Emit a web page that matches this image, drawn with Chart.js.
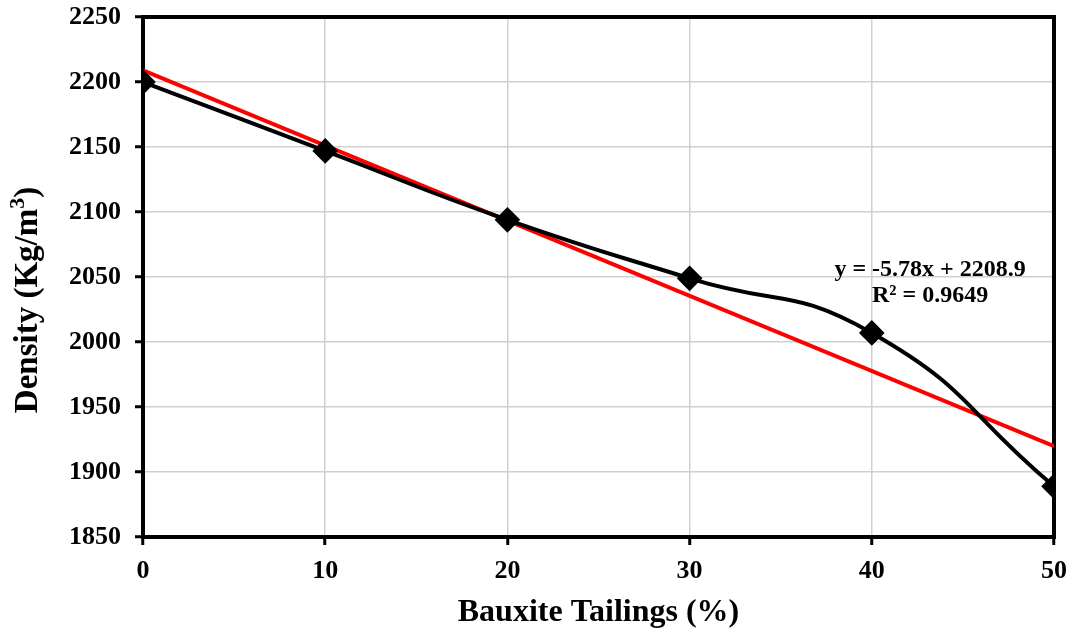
<!DOCTYPE html>
<html>
<head>
<meta charset="utf-8">
<script src="https://cdn.jsdelivr.net/npm/chart.js@4"></script>
<style>
  html, body { margin: 0; padding: 0; background: #fff; }
  #wrap { width: 1073px; height: 632px; }
</style>
</head>
<body>
<div id="wrap"><canvas id="densityChart" width="1073" height="632"></canvas></div>
<script>
// values
const tailings = [0, 10, 20, 30, 40, 50];
const density = [2200, 2147, 2094, 2049, 2007, 1889];
// linear trend y = -5.78x + 2208.9, drawn between its two ends
const trendX = [0, 50];
const trendY = [2208.9, 1919.9];
const trendText = ['y = -5.78x + 2208.9', 'R\u00b2 = 0.9649'];

const serif = '"Liberation Serif", "Times New Roman", serif';

const frameBox = {
  id: 'frameBox',
  beforeDatasetsDraw(chart) {
    const a = chart.chartArea;
    const ctx = chart.ctx;
    ctx.save();
    ctx.strokeStyle = '#000';
    ctx.lineWidth = 4;
    ctx.strokeRect(a.left, a.top, a.right - a.left, a.bottom - a.top);
    ctx.restore();
  },
  afterDatasetsDraw(chart) {
    const ctx = chart.ctx;
    const x = chart.scales.x.getPixelForValue(43.2);
    const y = chart.scales.y.getPixelForValue(2055.5);
    ctx.save();
    ctx.fillStyle = '#000';
    ctx.font = 'bold 24px ' + serif;
    ctx.textAlign = 'center';
    ctx.textBaseline = 'middle';
    ctx.fillText(trendText[0], x, y);
    ctx.fillText(trendText[1], x, y + 26);
    ctx.restore();

    // y axis title with a real superscript
    const main = 'Density (Kg/m';
    const sup = '3';
    const tail = ')';
    ctx.save();
    ctx.translate(28, 300);
    ctx.rotate(-Math.PI / 2);
    ctx.fillStyle = '#000';
    ctx.textBaseline = 'middle';
    ctx.font = 'bold 33px ' + serif;
    const w1 = ctx.measureText(main).width;
    const w3 = ctx.measureText(tail).width;
    ctx.font = 'bold 22px ' + serif;
    const w2 = ctx.measureText(sup).width;
    let sx = -(w1 + w2 + w3) / 2;
    ctx.font = 'bold 33px ' + serif;
    ctx.fillText(main, sx, 0);
    sx += w1;
    ctx.font = 'bold 22px ' + serif;
    ctx.fillText(sup, sx, -10);
    sx += w2;
    ctx.font = 'bold 33px ' + serif;
    ctx.fillText(tail, sx, 0);
    ctx.restore();
  }
};

const canvas = document.getElementById('densityChart');
new Chart(canvas.getContext('2d'), {
  type: 'line',
  data: {
    datasets: [
      {
        label: 'Density',
        data: tailings.map((t, i) => ({ x: t, y: density[i] })),
        borderColor: '#000',
        backgroundColor: '#000',
        borderWidth: 4,
        tension: 0.5,
        pointStyle: 'rectRot',
        pointRadius: 10,
        pointHoverRadius: 10,
        order: 1
      },
      {
        label: 'Linear',
        data: trendX.map((t, i) => ({ x: t, y: trendY[i] })),
        borderColor: '#ff0000',
        borderWidth: 4,
        pointRadius: 0,
        tension: 0,
        order: 2
      }
    ]
  },
  options: {
    responsive: false,
    animation: false,
    events: [],
    layout: { padding: { left: 0, top: 17, right: 19, bottom: 0 } },
    plugins: {
      legend: { display: false },
      tooltip: { enabled: false }
    },
    scales: {
      x: {
        type: 'linear',
        min: 0,
        max: 50,
        ticks: {
          stepSize: 10,
          color: '#000',
          padding: 11,
          font: { family: serif, size: 26, weight: 'bold' }
        },
        grid: {
          color: '#d0d0d0',
          lineWidth: 1.5,
          tickColor: '#000',
          tickWidth: 3,
          tickLength: 8
        },
        border: { color: '#000', width: 4 },
        title: {
          display: true,
          text: 'Bauxite Tailings (%)',
          color: '#000',
          padding: { top: 14, bottom: 0 },
          font: { family: serif, size: 32, weight: 'bold' }
        },
        afterFit(scale) {
          scale.height = 95;
          scale.paddingLeft = 0;
          scale.paddingRight = 0;
        }
      },
      y: {
        type: 'linear',
        min: 1850,
        max: 2250,
        ticks: {
          stepSize: 50,
          color: '#000',
          padding: 14,
          font: { family: serif, size: 26, weight: 'bold' },
          callback: (v) => String(v)
        },
        grid: {
          color: '#d0d0d0',
          lineWidth: 1.5,
          tickColor: '#000',
          tickWidth: 3,
          tickLength: 8
        },
        border: { color: '#000', width: 4 },
        title: { display: false },
        afterFit(scale) {
          scale.width = 143;
          scale.paddingTop = 0;
          scale.paddingBottom = 0;
        }
      }
    }
  },
  plugins: [frameBox]
});
</script>
</body>
</html>
